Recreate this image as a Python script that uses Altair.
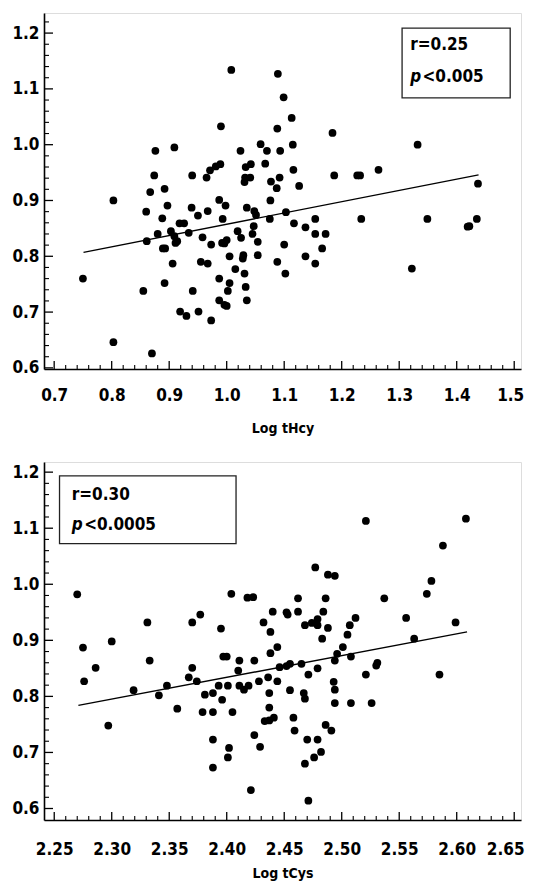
import altair as alt
import pandas as pd

# ---------------- data: top panel (Log tHcy) ----------------
thcy_x = [1.008, 1.089, 1.099, 1.113, 0.990, 1.088, 0.909, 0.876, 1.024, 1.059, 1.070, 1.093, 1.115, 1.067,
          0.965, 0.971, 0.981, 0.989, 1.033, 1.042, 0.874, 0.940, 1.032, 1.041, 1.031, 1.077, 1.092, 1.087,
          1.116, 1.126, 0.867, 0.892, 0.803, 0.897, 0.860, 0.888, 0.939, 0.950, 0.967, 0.987, 0.998, 0.993,
          1.035, 1.048, 1.051, 1.076, 1.075, 1.103, 1.117, 1.137, 0.918, 0.926, 0.880, 0.861, 0.903, 0.909,
          0.911, 0.914, 0.889, 0.893, 0.934, 0.958, 0.973, 0.992, 1.000, 0.996, 1.019, 1.025, 1.047, 1.045,
          1.054, 0.906, 0.955, 0.967, 1.005, 1.029, 1.028, 1.054, 1.088, 1.100, 1.137, 1.015, 1.031, 1.102,
          0.750, 0.987, 1.005, 0.892, 0.855, 0.941, 1.002, 1.033, 0.987, 0.996, 1.000, 1.035, 0.919, 0.930,
          0.951, 0.973, 0.803, 0.870,
          1.184, 1.332, 1.187, 1.227, 1.232, 1.264, 1.437, 1.154, 1.154, 1.172, 1.166, 1.154, 1.234, 1.349,
          1.419, 1.422, 1.435, 1.322]
thcy_y = [1.134, 1.127, 1.085, 1.048, 1.033, 1.029, 0.995, 0.989, 0.989, 1.001, 0.989, 0.989, 1.000, 0.966,
          0.941, 0.954, 0.961, 0.965, 0.960, 0.965, 0.945, 0.945, 0.941, 0.941, 0.933, 0.934, 0.941, 0.922,
          0.955, 0.926, 0.915, 0.921, 0.900, 0.891, 0.880, 0.868, 0.887, 0.873, 0.881, 0.901, 0.891, 0.867,
          0.887, 0.881, 0.874, 0.900, 0.867, 0.879, 0.859, 0.852, 0.859, 0.859, 0.840, 0.827, 0.845, 0.836,
          0.824, 0.827, 0.814, 0.814, 0.842, 0.834, 0.821, 0.824, 0.829, 0.823, 0.845, 0.833, 0.854, 0.840,
          0.826, 0.787, 0.790, 0.787, 0.800, 0.802, 0.796, 0.802, 0.790, 0.821, 0.800, 0.777, 0.769, 0.769,
          0.760, 0.760, 0.752, 0.752, 0.738, 0.738, 0.738, 0.745, 0.721, 0.713, 0.711, 0.721, 0.701, 0.693,
          0.701, 0.685, 0.646, 0.626,
          1.021, 1.000, 0.945, 0.945, 0.945, 0.955, 0.930, 0.867, 0.840, 0.840, 0.814, 0.787, 0.867, 0.867,
          0.853, 0.854, 0.867, 0.778]
thcy_line_x = [0.751, 1.438]
thcy_line_y = [0.807, 0.946]

# ---------------- data: bottom panel (Log tCys) ----------------
tcys_x = [2.270, 2.275, 2.276, 2.286, 2.300, 2.297, 2.331, 2.333, 2.319, 2.341, 2.348, 2.357, 2.370, 2.377,
          2.370, 2.367, 2.374, 2.395, 2.404, 2.418, 2.423, 2.432, 2.440, 2.452, 2.453, 2.462, 2.462, 2.438,
          2.444, 2.438, 2.397, 2.400, 2.411, 2.424, 2.410, 2.436, 2.444, 2.446, 2.452, 2.455, 2.393, 2.401,
          2.411, 2.415, 2.419, 2.428, 2.381, 2.388, 2.396, 2.437, 2.437, 2.437, 2.433, 2.441, 2.455, 2.379,
          2.388, 2.405, 2.458, 2.459, 2.388, 2.424, 2.402, 2.401, 2.429, 2.388, 2.421,
          2.465, 2.521, 2.608, 2.588, 2.578, 2.574, 2.599, 2.556, 2.537, 2.477, 2.488, 2.494, 2.486, 2.484,
          2.468, 2.474, 2.479, 2.479, 2.488, 2.483, 2.507, 2.512, 2.505, 2.501, 2.496, 2.494, 2.508, 2.563,
          2.530, 2.531, 2.471, 2.479, 2.521, 2.585, 2.493, 2.494, 2.467, 2.468, 2.494, 2.508, 2.526, 2.486,
          2.491, 2.470, 2.479, 2.482, 2.476, 2.468, 2.471]
tcys_y = [0.982, 0.887, 0.827, 0.851, 0.898, 0.748, 0.932, 0.864, 0.811, 0.802, 0.819, 0.778, 0.932, 0.946,
          0.851, 0.834, 0.827, 0.921, 0.983, 0.976, 0.977, 0.932, 0.951, 0.950, 0.946, 0.975, 0.951, 0.915,
          0.888, 0.877, 0.871, 0.871, 0.864, 0.864, 0.846, 0.834, 0.827, 0.852, 0.854, 0.858, 0.819, 0.819,
          0.819, 0.812, 0.819, 0.827, 0.803, 0.806, 0.794, 0.806, 0.780, 0.757, 0.756, 0.762, 0.811, 0.772,
          0.772, 0.772, 0.762, 0.739, 0.723, 0.731, 0.708, 0.691, 0.710, 0.673, 0.633,
          0.858, 1.113, 1.117, 1.069, 1.006, 0.983, 0.932, 0.940, 0.975, 1.030, 1.017, 1.015, 0.975, 0.951,
          0.927, 0.931, 0.938, 0.927, 0.922, 0.903, 0.927, 0.940, 0.910, 0.888, 0.876, 0.864, 0.871, 0.903,
          0.855, 0.860, 0.839, 0.850, 0.839, 0.839, 0.826, 0.812, 0.806, 0.796, 0.788, 0.788, 0.788, 0.749,
          0.739, 0.723, 0.723, 0.701, 0.691, 0.680, 0.614]
tcys_line_x = [2.271, 2.609]
tcys_line_y = [0.784, 0.915]

# axis ticks / labels
y_major = [0.6, 0.7, 0.8, 0.9, 1.0, 1.1, 1.2]
y_minor = [round(0.6 + 0.02 * i, 2) for i in range(32) if i % 5 != 0]
thcy_major = [0.7, 0.8, 0.9, 1.0, 1.1, 1.2, 1.3, 1.4, 1.5]
thcy_minor = [round(0.7 + 0.02 * i, 2) for i in range(41) if i % 5 != 0]
tcys_major = [2.25, 2.30, 2.35, 2.40, 2.45, 2.50, 2.55, 2.60, 2.65]
tcys_minor = [round(2.25 + 0.01 * i, 2) for i in range(41) if i % 5 != 0]

# annotation boxes (data coordinates)
thcy_box = dict(x=1.305, x2=1.493, y=1.209, y2=1.084)
thcy_r = ("r=0.25", 1.319, 1.178)
thcy_p = ("<0.005", 1.3405, 1.121, 1.319)
tcys_box = dict(x=2.2546, x2=2.4081, y=1.1932, y2=1.0724)
tcys_r = ("r=0.30", 2.2652, 1.1595)
tcys_p = ("<0.0005", 2.2760, 1.1061, 2.2652)

FONT = "Liberation Sans Narrow, DejaVu Sans Condensed, Arial Narrow, sans-serif"
LABEL_SIZE = 17
TITLE_SIZE = 14
NOTE_SIZE = 17


def panel(px, py, lx, ly, xdom, ydom, xmaj, xmin, xfmt, title, box, rtxt, ptxt, w, h,
          label_pad, title_pad, last_shift):
    X = alt.X("x:Q", scale=alt.Scale(domain=xdom, nice=False, zero=False),
              axis=alt.Axis(values=xmaj, format=xfmt, title=title, grid=False, ticks=False,
                            labelFont=FONT, labelFontSize=LABEL_SIZE, labelFontWeight="bold",
                            labelColor="black", labelPadding=label_pad, labelFlush=False,
                            labelOverlap=False,
                            labelOffset={"expr": "datum.value > %s ? %d : 0" % (xmaj[-1] - 0.001, last_shift)},
                            titleFont=FONT, titleFontSize=TITLE_SIZE, titleFontWeight="bold",
                            titleColor="black", titlePadding=title_pad,
                            domainColor="black", domainWidth=1.6))
    Y = alt.Y("y:Q", scale=alt.Scale(domain=ydom, nice=False, zero=False),
              axis=alt.Axis(values=y_major, format=".1f", title=None, grid=False, ticks=False,
                            labelFont=FONT, labelFontSize=LABEL_SIZE, labelFontWeight="bold",
                            labelColor="black", labelPadding=5, labelFlush=False,
                            labelOverlap=False,
                            domainColor="black", domainWidth=1.6))

    pts = pd.DataFrame({"x": px, "y": py})
    line = pd.DataFrame({"x": lx, "y": ly})
    ymaj = pd.DataFrame({"y": y_major})
    ymin = pd.DataFrame({"y": [v for v in y_minor if ydom[0] <= v <= ydom[1]]})
    xmj = pd.DataFrame({"x": xmaj})
    xmn = pd.DataFrame({"x": xmin})
    boxdf = pd.DataFrame([box])
    rdf = pd.DataFrame([{"x": rtxt[1], "y": rtxt[2], "t": rtxt[0]}])
    pdf1 = pd.DataFrame([{"x": ptxt[3], "y": ptxt[2], "t": "p"}])
    pdf2 = pd.DataFrame([{"x": ptxt[1], "y": ptxt[2], "t": ptxt[0]}])

    layers = [
        alt.Chart(boxdf).mark_rect(fill="white", stroke="#222", strokeWidth=1.3).encode(
            x=X, x2="x2", y=Y, y2="y2"),
        alt.Chart(ymaj).mark_rule(color="black", strokeWidth=1.3).encode(
            y=Y, x=alt.value(0), x2=alt.value(9)),
        alt.Chart(ymin).mark_rule(color="black", strokeWidth=1.1).encode(
            y=Y, x=alt.value(0), x2=alt.value(5)),
        alt.Chart(xmj).mark_rule(color="black", strokeWidth=1.3).encode(
            x=X, y=alt.value(h), y2=alt.value(h - 8)),
        alt.Chart(xmn).mark_rule(color="black", strokeWidth=1.1).encode(
            x=X, y=alt.value(h), y2=alt.value(h - 4)),
        alt.Chart(line).mark_line(color="black", strokeWidth=1.4).encode(x=X, y=Y),
        alt.Chart(pts).mark_circle(color="black", opacity=1, size=60).encode(x=X, y=Y),
        alt.Chart(rdf).mark_text(font=FONT, fontSize=NOTE_SIZE, fontWeight="bold", align="left",
                                 baseline="middle", color="black").encode(x=X, y=Y, text="t:N"),
        alt.Chart(pdf1).mark_text(font=FONT, fontSize=NOTE_SIZE, fontWeight="bold",
                                  fontStyle="italic", align="left", baseline="middle",
                                  color="black").encode(x=X, y=Y, text="t:N"),
        alt.Chart(pdf2).mark_text(font=FONT, fontSize=NOTE_SIZE, fontWeight="bold", align="left",
                                  baseline="middle", color="black").encode(x=X, y=Y, text="t:N"),
    ]
    return alt.layer(*layers).properties(width=w, height=h)


top = panel(thcy_x, thcy_y, thcy_line_x, thcy_line_y, [0.6823, 1.5118], [0.598, 1.236],
            thcy_major, thcy_minor, ".1f", "Log tHcy", thcy_box, thcy_r, thcy_p, 477, 356,
            label_pad=18, title_pad=18, last_shift=-4)
bottom = panel(tcys_x, tcys_y, tcys_line_x, tcys_line_y, [2.2411, 2.6559], [0.5795, 1.2181],
               tcys_major, tcys_minor, ".2f", "Log tCys", tcys_box, tcys_r, tcys_p, 477, 358,
               label_pad=21, title_pad=9, last_shift=-9)

chart = alt.vconcat(top, bottom, spacing=25).properties(
    padding={"left": 3, "top": 4, "right": 0, "bottom": 0}
).configure_view(stroke="#666", strokeWidth=1.3).configure(background="white")

chart.save("out.html", embed_options={"renderer": "svg", "actions": False})
